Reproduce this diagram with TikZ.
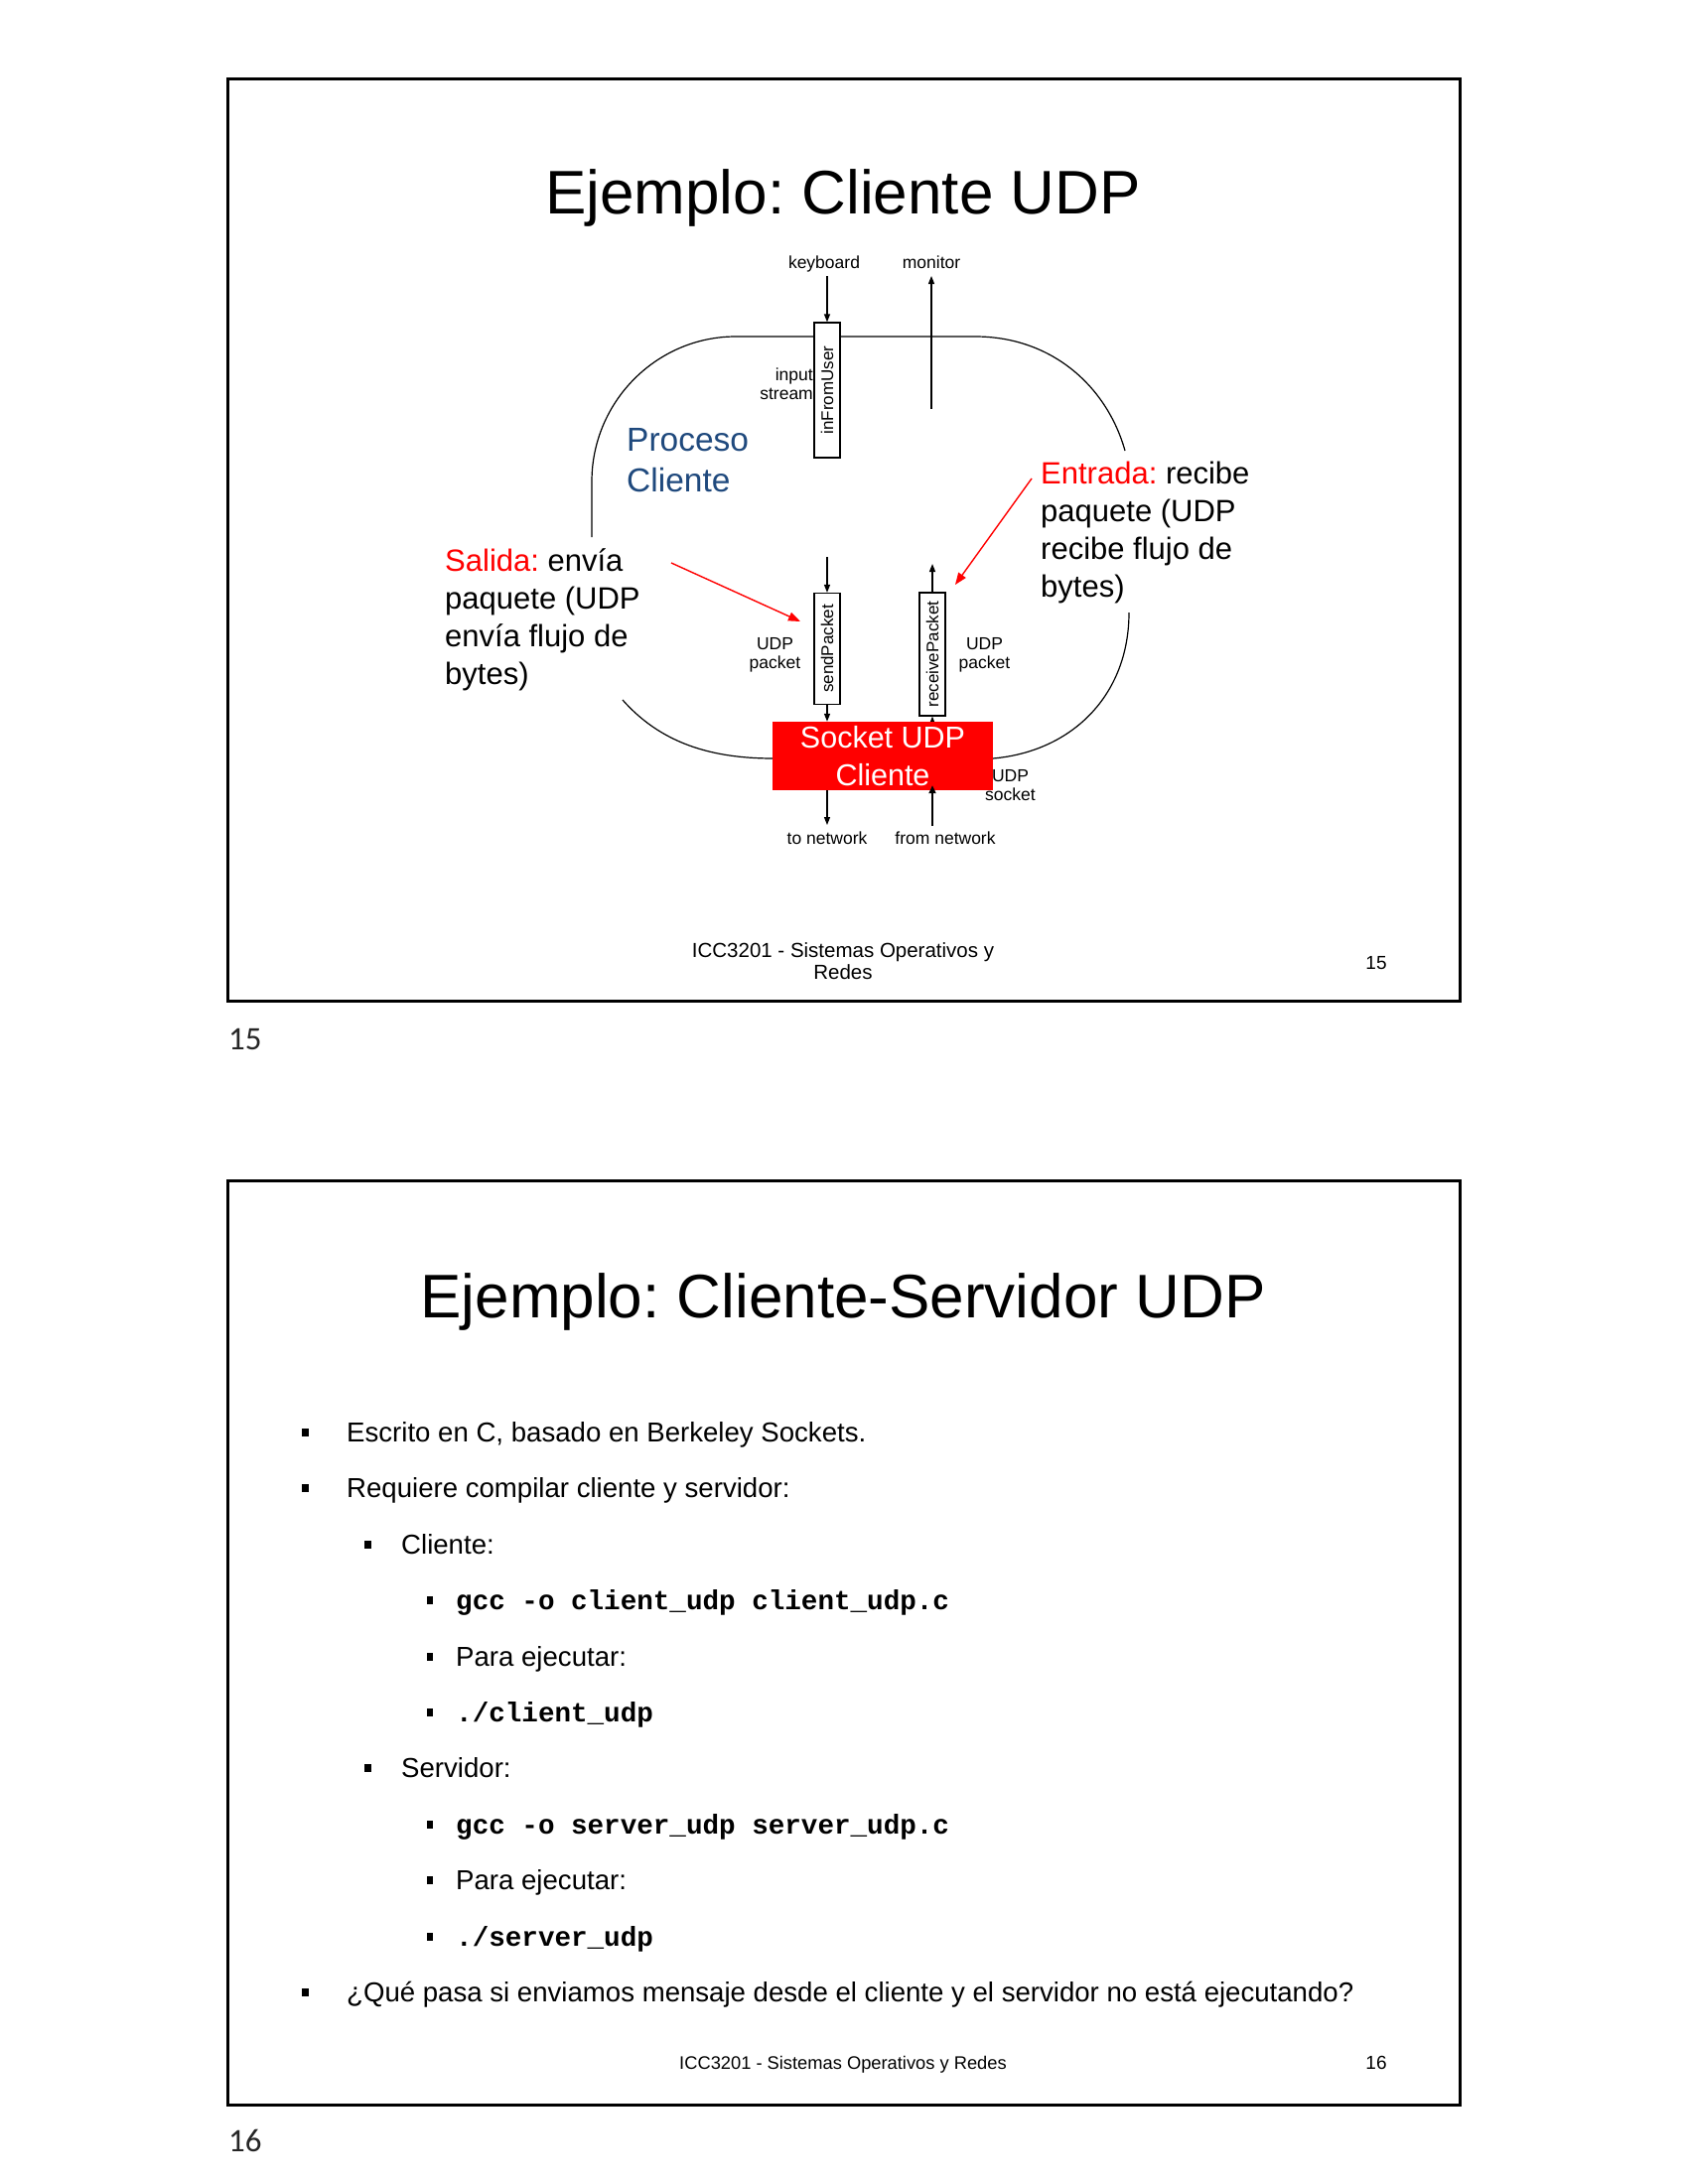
\documentclass[tikz,border=0pt]{standalone}
\usepackage{fontspec}
\setmainfont{Liberation Sans}
\setmonofont{Liberation Mono}
\newfontfamily\calfont{Carlito}
\usetikzlibrary{arrows.meta}
\definecolor{procblue}{RGB}{31,73,125}
\frenchspacing
\begin{document}
\begin{tikzpicture}[x=1pt,y=-1pt,
  frame/.style={draw=black, line width=3pt},
  outline/.style={draw=black, line width=1.2pt},
  arr/.style={-{Triangle[length=8pt,width=6pt]}, line width=1.2pt},
  redarr/.style={-{Triangle[length=12pt,width=9pt]}, draw=red, line width=1.4pt},
  pbox/.style={draw=black, fill=white, line width=1.2pt, rotate=90, inner sep=0pt, minimum height=26pt, font=\fontsize{17}{17}\selectfont},
  small/.style={inner sep=0pt, font=\fontsize{17.5}{19}\selectfont, align=center},
  big/.style={inner sep=0pt, anchor=base west, font=\fontsize{31}{31}\selectfont},
  title/.style={inner sep=0pt, anchor=base, font=\fontsize{62}{62}\selectfont},
  btext/.style={inner sep=0pt, anchor=base west, font=\fontsize{27.6}{27.6}\selectfont},
  ctext/.style={inner sep=0pt, anchor=base west, font=\fontsize{27.6}{27.6}\selectfont\ttfamily\bfseries},
  bulA/.style={fill=black, inner sep=0pt, minimum width=7pt, minimum height=8pt},
  bulB/.style={fill=black, inner sep=0pt, minimum width=6pt, minimum height=8pt},
  below/.style={inner sep=0pt, anchor=base west, font=\calfont\fontsize{33}{33}\selectfont, text=black!85}
]
\useasboundingbox[fill=white] (0,0) rectangle (1700,2200);

% ================= Slide 15 =================
\draw[frame] (229.5,79.5) rectangle (1470,1008.5);
\node[title] (title1) at (849,215) {Ejemplo: Cliente UDP};

% process outline
\draw[outline] (596,541) -- (596,485) .. controls (596,405) and (661,339) .. (741,339)
  -- (982,339) .. controls (1060,339) and (1115,390) .. (1133,454);
\draw[outline] (1137,617) .. controls (1137,700) and (1080,757) .. (1000,764);
\draw[outline] (627,705) .. controls (665,748) and (715,764) .. (779,764);

% keyboard / monitor
\node[small, anchor=base] (kb) at (830,270) {keyboard};
\node[small, anchor=base] (mon) at (938,270) {monitor};
\node[pbox, minimum width=136pt] (ifu) at (833,393) {inFromUser};
\coordinate (kbA) at (833,278);
\draw[arr] (kbA) -- (ifu.east);
\coordinate (monA) at (938,412);
\coordinate (monB) at (938,278);
\draw[arr] (monA) -- (monB);
\node[small, anchor=east, align=right] (instr) at (819,386.7) {input\\stream};

% Proceso Cliente
\node[inner sep=0pt, anchor=base west, font=\fontsize{33.5}{33.5}\selectfont, text=procblue] (proc1) at (631,454) {Proceso};
\node[inner sep=0pt, anchor=base west, font=\fontsize{33.5}{33.5}\selectfont, text=procblue] (proc2) at (631,495) {Cliente};

% packet boxes
\node[pbox, minimum width=112pt] (sp) at (833,653.5) {sendPacket};
\node[pbox, minimum width=124pt] (rp) at (939,659) {receivePacket};
\coordinate (spIn) at (833,561);
\draw[arr] (spIn) -- (sp.east);
\coordinate (rpOut) at (939,568);
\draw[arr] (rp.east) -- (rpOut);
\coordinate (rpIn) at (939,755);
\draw[arr] (rpIn) -- (rp.west);

% socket box
\node[fill=red, minimum width=222pt, minimum height=69pt, inner sep=0pt, text=white, align=center,
  font=\fontsize{30.5}{38}\selectfont] (sock) at (889,761.5) {Socket UDP\\Cliente};
\draw[arr] (sp.west) -- (sp.west |- sock.north);
\coordinate (toNet) at (833,831);
\draw[arr] (sock.south -| toNet) -- (toNet);
\coordinate (fromNet) at (939,832);
\draw[-{Triangle[length=8pt,width=7pt]}, line width=2pt] (fromNet) -- ([yshift=5pt]sock.south -| fromNet);

\node[small] (udpL) at (780.5,659.6) {UDP\\packet};
\node[small] (udpR) at (991.5,659.6) {UDP\\packet};
\node[small] (udpS) at (1017.5,791) {UDP\\socket};
\node[small, anchor=base] (tonetL) at (833,850) {to network};
\node[small, anchor=base] (fromnetL) at (952,850) {from network};

% Salida
\node[big] (sal1) at (448,575) {{\color{red}Salida:} envía};
\node[big] (sal2) at (448,613) {paquete (UDP};
\node[big] (sal3) at (448,651) {envía flujo de};
\node[big] (sal4) at (448,689) {bytes)};
\coordinate (salA) at (676,567);
\coordinate (salB) at (806,626);
\draw[redarr] (salA) -- (salB);

% Entrada
\node[big] (ent1) at (1048,487) {{\color{red}Entrada:} recibe};
\node[big] (ent2) at (1048,525) {paquete (UDP};
\node[big] (ent3) at (1048,563) {recibe flujo de};
\node[big] (ent4) at (1048,601) {bytes)};
\coordinate (entA) at (1039,482);
\coordinate (entB) at (962,589);
\draw[redarr] (entA) -- (entB);

% footer
\node[inner sep=0pt, align=center, font=\fontsize{20.5}{22}\selectfont] (foot1) at (849,968.6) {ICC3201 - Sistemas Operativos y\\Redes};
\node[inner sep=0pt, anchor=base, font=\fontsize{19}{19}\selectfont] (pg1) at (1386,976) {15};
\node[below] (num15) at (230,1057) {15};

% ================= Slide 16 =================
\draw[frame] (229.5,1189.5) rectangle (1470,2120.5);
\node[title] (title2) at (849,1327) {Ejemplo: Cliente-Servidor UDP};

\node[bulA] (b1) at (307,1443) {};
\node[btext] (l1) at (349,1452) {Escrito en C, basado en Berkeley Sockets.};
\node[bulA] (b2) at (307,1499) {};
\node[btext] (l2) at (349,1508) {Requiere compilar cliente y servidor:};
\node[bulA] (b3) at (370,1556) {};
\node[btext] (l3) at (404,1565) {Cliente:};
\node[bulB] (b4) at (433,1612) {};
\node[ctext] (l4) at (459,1621) {gcc -o client\_udp client\_udp.c};
\node[bulB] (b5) at (433,1669) {};
\node[btext] (l5) at (459,1678) {Para ejecutar:};
\node[bulB] (b6) at (433,1725) {};
\node[ctext] (l6) at (459,1734) {./client\_udp};
\node[bulA] (b7) at (370,1781) {};
\node[btext] (l7) at (404,1790) {Servidor:};
\node[bulB] (b8) at (433,1838) {};
\node[ctext] (l8) at (459,1847) {gcc -o server\_udp server\_udp.c};
\node[bulB] (b9) at (433,1894) {};
\node[btext] (l9) at (459,1903) {Para ejecutar:};
\node[bulB] (b10) at (433,1951) {};
\node[ctext] (l10) at (459,1960) {./server\_udp};
\node[bulA] (b11) at (307,2007) {};
\node[btext] (l11) at (349,2016) {¿Qué pasa si enviamos mensaje desde el cliente y el servidor no está ejecutando?};

\node[inner sep=0pt, anchor=base, font=\fontsize{18.3}{18.3}\selectfont] (foot2) at (849,2084) {ICC3201 - Sistemas Operativos y Redes};
\node[inner sep=0pt, anchor=base, font=\fontsize{19}{19}\selectfont] (pg2) at (1386,2084) {16};
\node[below] (num16) at (230,2167) {16};
\end{tikzpicture}
\end{document}
